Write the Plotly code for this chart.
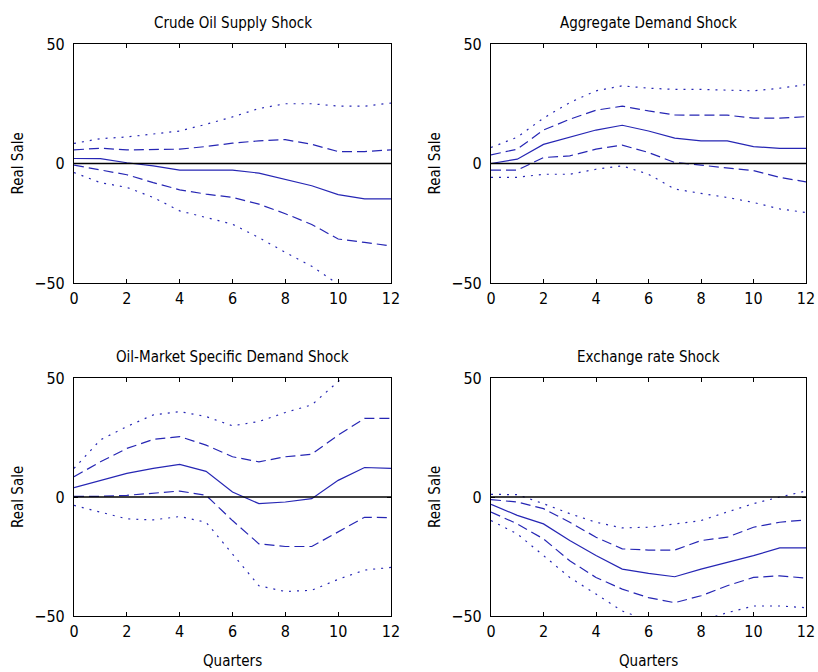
import plotly.graph_objects as go

quarters = list(range(13))

titles = [
    "Crude Oil Supply Shock",
    "Aggregate Demand Shock",
    "Oil-Market Specific Demand Shock",
    "Exchange rate Shock",
]

# Impulse responses of real sales: median, 68% (dashed) and 95% (dotted) bands
supply_med = [2.1, 2.0, 0.3, -1.0, -2.8, -2.8, -2.8, -4.0, -6.5, -9.3, -13.0, -14.8, -14.8]
supply_hi1 = [5.7, 6.4, 5.7, 5.7, 6.0, 7.1, 8.5, 9.5, 10.0, 8.0, 5.0, 5.0, 5.7]
supply_lo1 = [-0.7, -2.8, -4.7, -8.0, -11.0, -12.8, -14.2, -17.0, -21.0, -25.5, -31.6, -33.0, -34.5]
supply_hi2 = [8.4, 10.4, 11.1, 12.3, 13.6, 16.4, 19.5, 23.0, 25.0, 25.0, 24.0, 24.0, 25.3]
supply_lo2 = [-3.8, -8.0, -10.0, -14.2, -19.8, -22.6, -25.4, -31.0, -37.2, -43.0, -50.5, -57.0, -62.0]

agg_med = [0.0, 1.8, 8.0, 10.9, 14.0, 16.0, 13.6, 10.6, 9.5, 9.5, 7.1, 6.3, 6.3]
agg_hi1 = [3.6, 6.0, 14.0, 18.5, 22.3, 24.0, 22.0, 20.3, 20.2, 20.2, 19.0, 19.0, 19.6]
agg_lo1 = [-2.8, -2.8, 2.5, 3.2, 6.0, 7.7, 4.6, 0.4, -0.7, -1.7, -3.0, -5.8, -7.7]
agg_hi2 = [6.7, 11.0, 19.0, 25.5, 30.4, 32.5, 31.5, 31.0, 31.0, 30.6, 30.4, 31.5, 33.0]
agg_lo2 = [-5.8, -5.8, -4.5, -4.5, -2.4, -1.0, -4.5, -10.7, -12.5, -14.2, -16.3, -19.0, -20.5]

oil_med = [3.9, 7.0, 9.9, 12.0, 13.7, 10.8, 2.1, -2.8, -2.1, -0.7, 7.0, 12.4, 12.0]
oil_hi1 = [8.5, 14.8, 20.4, 24.2, 25.4, 21.8, 16.9, 14.8, 16.9, 18.0, 26.0, 33.0, 33.0]
oil_lo1 = [0.3, 0.3, 0.7, 1.7, 2.5, 0.7, -9.9, -19.7, -20.8, -20.8, -14.8, -8.5, -8.7]
oil_hi2 = [12.0, 24.0, 29.6, 34.5, 35.9, 33.8, 29.9, 31.7, 35.5, 38.7, 48.5, 57.0, 60.0]
oil_lo2 = [-3.5, -6.3, -9.2, -9.6, -8.2, -10.6, -24.0, -37.3, -39.7, -39.2, -34.6, -30.7, -29.6]

fx_med = [-3.1, -7.7, -11.3, -18.3, -24.6, -30.3, -32.1, -33.5, -30.3, -27.5, -24.6, -21.4, -21.4]
fx_hi1 = [-1.1, -2.1, -4.9, -10.6, -16.9, -21.8, -22.3, -22.3, -18.3, -16.9, -12.7, -10.6, -9.6]
fx_lo1 = [-6.3, -11.3, -17.6, -26.8, -33.8, -38.7, -42.3, -44.4, -41.5, -37.3, -33.8, -33.1, -34.1]
fx_hi2 = [1.1, 1.0, -2.8, -7.0, -10.6, -13.0, -12.7, -11.3, -9.9, -6.3, -2.8, 0.0, 2.5]
fx_lo2 = [-9.9, -15.5, -24.6, -33.8, -40.8, -47.9, -52.0, -53.5, -52.0, -48.6, -45.8, -45.8, -46.5]

panels = [
    (supply_med, supply_hi1, supply_lo1, supply_hi2, supply_lo2),
    (agg_med, agg_hi1, agg_lo1, agg_hi2, agg_lo2),
    (oil_med, oil_hi1, oil_lo1, oil_hi2, oil_lo2),
    (fx_med, fx_hi1, fx_lo1, fx_hi2, fx_lo2),
]

x_ticks = [0, 2, 4, 6, 8, 10, 12]
y_ticks = [-50, 0, 50]

W, H = 818, 672
# plot-area boxes in pixels: (left, right, top, bottom)
boxes = [
    (74, 391, 44, 283),
    (491, 806, 44, 283),
    (74, 391, 378, 616),
    (491, 806, 378, 616),
]

FONT = "Liberation Sans Narrow, DejaVu Sans Condensed, Arial Narrow, sans-serif"
BLUE = "#2626b4"
TICK_FONT = dict(family=FONT, size=16, color="black")
TEXT_FONT = dict(family=FONT, size=15, color="black")

fig = go.Figure()
layout = dict(
    width=W, height=H,
    autosize=False,
    margin=dict(l=0, r=0, t=0, b=0, pad=0, autoexpand=False),
    paper_bgcolor="white", plot_bgcolor="white",
    showlegend=False,
    font=dict(family=FONT, size=16, color="black"),
)
annotations = []

for i, (series, box) in enumerate(zip(panels, boxes), start=1):
    med, hi1, lo1, hi2, lo2 = series
    xa = "x" if i == 1 else f"x{i}"
    ya = "y" if i == 1 else f"y{i}"
    for vals, dash in [(hi2, "2px,6px"), (lo2, "2px,6px"),
                       (hi1, "10px,5px"), (lo1, "10px,5px"), (med, "solid")]:
        fig.add_trace(go.Scatter(
            x=quarters, y=vals, mode="lines", xaxis=xa, yaxis=ya,
            line=dict(color=BLUE, width=1.2, dash=dash),
            hoverinfo="skip", cliponaxis=True,
        ))
    l, r, t, b = box
    axis_common = dict(
        showline=True, linecolor="black", linewidth=1.2, mirror="ticks",
        ticks="inside", ticklen=4, tickcolor="black", showgrid=False,
        zeroline=False, tickfont=TICK_FONT, automargin=False,
    )
    layout["xaxis" if i == 1 else f"xaxis{i}"] = dict(
        domain=[l / W, r / W], range=[0, 12], tickvals=x_ticks,
        anchor=ya, ticklabelstandoff=1, **axis_common)
    layout["yaxis" if i == 1 else f"yaxis{i}"] = dict(
        domain=[1 - b / H, 1 - t / H], range=[-50, 50], tickvals=y_ticks,
        anchor=xa, ticklabelstandoff=5, **axis_common)
    fig.add_shape(type="line", xref=xa, yref=ya, x0=0, x1=12, y0=0, y1=0,
                  line=dict(color="black", width=1.5))
    annotations.append(dict(
        text=titles[i - 1], xref="paper", yref="paper",
        x=(l + r) / 2 / W, y=1 - (t - 21) / H, xanchor="center", yanchor="middle",
        showarrow=False, font=TEXT_FONT))
    annotations.append(dict(
        text="Real Sale", xref="paper", yref="paper",
        x=(l - 56) / W, y=1 - (t + b) / 2 / H, xanchor="center", yanchor="middle",
        textangle=-90, showarrow=False, font=TEXT_FONT))
    if i > 2:
        annotations.append(dict(
            text="Quarters", xref="paper", yref="paper",
            x=(l + r) / 2 / W, y=1 - (b + 45) / H, xanchor="center", yanchor="middle",
            showarrow=False, font=TEXT_FONT))

layout["annotations"] = annotations
fig.update_layout(**layout)
fig.write_html("out.html")
